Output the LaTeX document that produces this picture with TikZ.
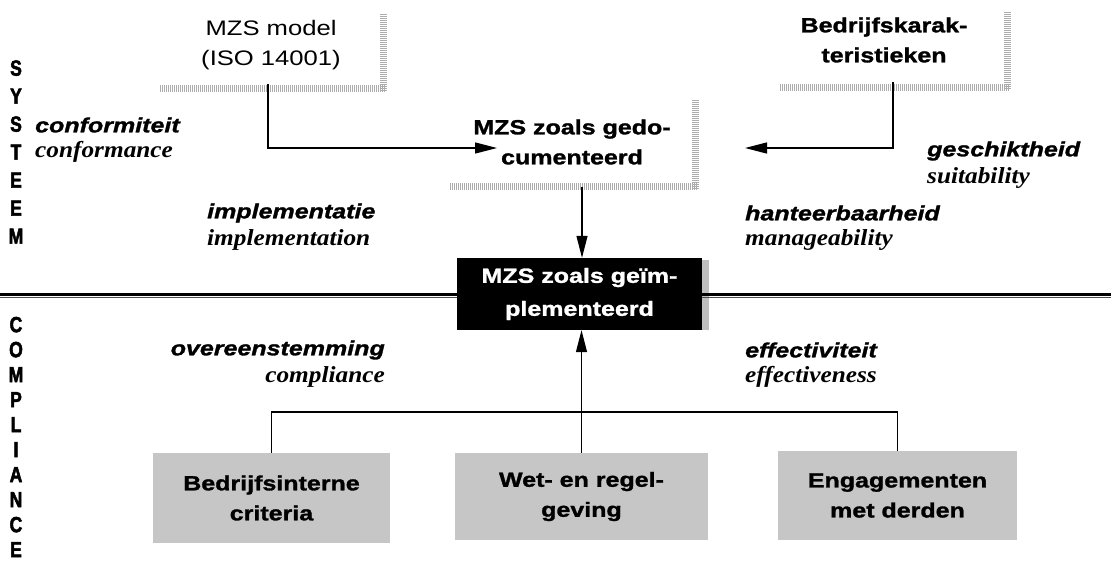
\documentclass[tikz,border=0pt]{standalone}
\usepackage{fontspec}
\setmainfont{Liberation Sans}
\newfontfamily\hv[FakeStretch=1.22, BoldFeatures={FakeBold=1.4}, BoldItalicFeatures={FakeBold=1.4}]{Liberation Sans}
\newfontfamily\tms[FakeStretch=1.1]{Liberation Serif}
\newfontfamily\hvc[FakeStretch=0.8, BoldFeatures={FakeBold=2.2}]{Liberation Sans}
\usetikzlibrary{arrows.meta,calc}
\begin{document}
\begin{tikzpicture}[x=1pt,y=-1pt,
  plaintxt/.style={font=\hv\fontsize{21}{30}\selectfont, align=center, inner sep=0},
  boldtxt/.style={font=\hv\bfseries\fontsize{20.5}{30}\selectfont, align=center, inner sep=0},
  lab/.style={font=\hv\bfseries\itshape\fontsize{20.5}{24}\selectfont, inner sep=0},
  labt/.style={font=\tms\bfseries\itshape\fontsize{23}{24}\selectfont, inner sep=0},
  shadowline/.style={gray!65, line width=7pt, dash pattern=on 1pt off 1pt},
  conn/.style={line width=1.3pt},
  arr/.style={conn, -{Triangle[length=22pt,width=11pt]}},
  gbox/.style={boldtxt, fill=gray!45},
  side/.style={font=\hvc\bfseries\fontsize{22}{25}\selectfont, align=center, inner sep=0}
]
\useasboundingbox[fill=white] (0,0) rectangle (1111,574);

% side labels
\node[side, font=\hvc\bfseries\fontsize{22}{28}\selectfont] (sys) at (16,152) {S\\Y\\S\\T\\E\\E\\M};
\node[side] (comp) at (16,437) {C\\O\\M\\P\\L\\I\\A\\N\\C\\E};

% top boxes
\node[plaintxt, minimum width=222pt, minimum height=78pt] (model) at (271,45) {MZS model\\(ISO 14001)};
\draw[shadowline] (160,88) -- (386,88);
\draw[shadowline] (383,14) -- (383,91);

\node[boldtxt, minimum width=246pt, minimum height=84pt] (bedr) at (884,40) {Bedrijfskarak-\\teristieken};
\draw[shadowline] (780,87) -- (1010,87);
\draw[shadowline] (1007,12) -- (1007,90);

\node[boldtxt, minimum width=246pt, minimum height=90pt] (gedoc) at (572,142) {MZS zoals gedo-\\cumenteerd};
\draw[shadowline] (450,186) -- (698,186);
\draw[shadowline] (695,100) -- (695,189);

% implemented box
\fill[gray!50] (702,260) rectangle (709,330);
\node[boldtxt, fill=black, text=white, minimum width=245pt, minimum height=72pt,
      font=\hv\bfseries\fontsize{20.5}{33}\selectfont] (impl) at (579.5,294) {MZS zoals geïm-\\plementeerd};

% separator line
\draw[line width=3pt] (0,294) -- (impl.west |- 0,294);
\draw[line width=1pt, gray!60!black] (0,297.5) -- (impl.west |- 0,297.5);
\draw[line width=3pt] (impl.east |- 0,294) -- (1111,294);
\draw[line width=1pt, gray!60!black] (impl.east |- 0,297.5) -- (1111,297.5);

% bottom boxes
\node[gbox, minimum width=237pt, minimum height=90pt] (b1) at (271.5,498) {Bedrijfsinterne\\criteria};
\node[gbox, minimum width=253pt, minimum height=87pt] (b2) at (581.5,496.5) {Wet- en regel-\\geving};
\node[gbox, minimum width=239pt, minimum height=89pt] (b3) at (897.5,495.5) {Engagementen\\met derden};

% connectors
\coordinate (gin) at (497,148);
\coordinate (gin2) at (745,148);
\coordinate (gout) at ($(gedoc.south)+(10,0)$);
\draw[arr] ($(model.south)+(-3,0)$) |- (gin);
\draw[arr] ($(bedr.south)+(9,0)$) |- (gin2);
\draw[arr] (gout) -- (gout |- impl.north);
\coordinate (hb) at (582,412);
\draw[conn] (b1.north) |- (hb) -| (b3.north);
\draw[arr] (b2.north) -- (b2.north |- impl.south);

% labels
\node[lab, anchor=west] (l1a) at (35,125) {conformiteit};
\node[labt, anchor=west] (l1b) at (35,152) {conformance};
\node[lab, anchor=west] (l2a) at (927,151) {geschiktheid};
\node[labt, anchor=west] (l2b) at (927,178) {suitability};
\node[lab, anchor=west] (l3a) at (207,213) {implementatie};
\node[labt, anchor=west] (l3b) at (207,240) {implementation};
\node[lab, anchor=west] (l4a) at (745,213) {hanteerbaarheid};
\node[labt, anchor=west] (l4b) at (745,240) {manageability};
\node[lab, anchor=east] (l5a) at (385,350) {overeenstemming};
\node[labt, anchor=east] (l5b) at (385,377) {compliance};
\node[lab, anchor=west] (l6a) at (745,350) {effectiviteit};
\node[labt, anchor=west] (l6b) at (745,377) {effectiveness};
\end{tikzpicture}
\end{document}
